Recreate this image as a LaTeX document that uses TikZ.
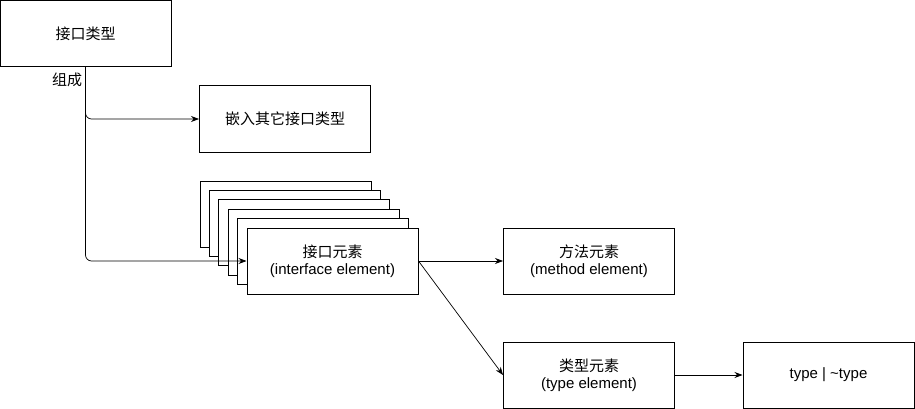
\documentclass[tikz,border=0pt]{standalone}
\usepackage{fontspec}
\setmainfont{Liberation Sans}
\newfontfamily\cjk[Scale=1.0]{Noto Sans CJK SC}
\usetikzlibrary{arrows.meta}

\begin{document}
\begin{tikzpicture}[x=1pt, y=-1pt, -{Stealth[length=8pt,width=6pt]}, line width=0.7pt,
      every node/.append style={font=\fontsize{15}{17.5}\selectfont, align=center}]
    \tikzstyle{box} = [draw, line width=1pt, fill=white, minimum width=171pt, minimum height=66pt, inner sep=0pt]
    \useasboundingbox (0,0) rectangle (915,409);
    \node [box] (iface) at (85.5,33.5) {\cjk 接口类型};
    \node (compose) at (67,80) {\cjk 组成};
    \node [box] (embed) at (285,119) {\cjk 嵌入其它接口类型};
    % stacked copies behind the element box
    \foreach \i in {0,...,4}
      \draw [-, line width=1pt, fill=white] (200+9.4*\i,181+9.4*\i) rectangle ++(171,66);
    \node [box] (elem) at (332.5,261) {{\cjk 接口元素}\\(interface element)};
    \node [box] (method) at (589,261) {{\cjk 方法元素}\\(method element)};
    \node [box] (type) at (589,375) {{\cjk 类型元素}\\(type element)};
    \node [box] (union) at (828.5,375) {type | \textasciitilde type};
      \draw [rounded corners=6pt] (iface.south) |- (embed.west);
      \draw [rounded corners=6pt] (iface.south) |- (elem.west);
      \draw (elem.east) to (method.west);
      \draw (elem.east) to (type.west);
      \draw (type.east) to (union.west);
  \end{tikzpicture}
\end{document}
